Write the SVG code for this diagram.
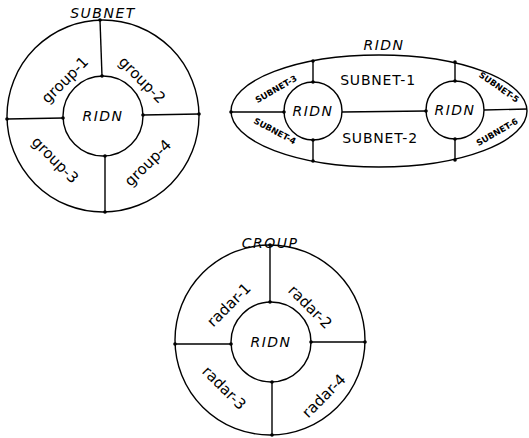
<svg xmlns="http://www.w3.org/2000/svg" width="529" height="438" viewBox="0 0 529 438">
<style>
.ln{fill:none;stroke:#000;stroke-width:1.4}
.dot{fill:#000}
.lab{font-family:"DejaVu Sans","Liberation Sans",sans-serif;font-size:15px;fill:#000;text-anchor:middle;dominant-baseline:central}
.it{font-family:"DejaVu Sans","Liberation Sans",sans-serif;font-style:italic;font-size:14px;fill:#000;text-anchor:middle;letter-spacing:1.5px}
.sm{font-family:"DejaVu Sans","Liberation Sans",sans-serif;font-weight:bold;font-size:8.5px;fill:#000;text-anchor:middle;dominant-baseline:central}
.mid{font-family:"DejaVu Sans","Liberation Sans",sans-serif;font-size:14px;fill:#000;text-anchor:middle;dominant-baseline:central;letter-spacing:0.8px}
</style>
<rect width="529" height="438" fill="#fff"/>

<!-- Subnet diagram -->
<g id="subnet">
<circle class="ln" cx="103" cy="116" r="96"/>
<circle class="ln" cx="103" cy="116" r="40"/>
<text class="it" x="103" y="18">SUBNET</text>
<text class="it" x="103" y="121" letter-spacing="1">RIDN</text>
<text class="lab" transform="translate(65,80) rotate(-45)">group-1</text>
<text class="lab" transform="translate(142,80) rotate(45)">group-2</text>
<text class="lab" transform="translate(55,160) rotate(45)">group-3</text>
<text class="lab" transform="translate(148,163) rotate(-45)">group-4</text>
</g>

<!-- RIDN network ellipse -->
<g id="ridn">
<ellipse class="ln" cx="379" cy="111" rx="148" ry="56"/>
<circle class="ln" cx="313" cy="111" r="29"/>
<circle class="ln" cx="455" cy="110" r="29"/>
<text class="it" x="384" y="50">RIDN</text>
<text class="it" x="313" y="116" letter-spacing="1">RIDN</text>
<text class="it" x="455" y="115" letter-spacing="1">RIDN</text>
<text class="mid" x="378" y="80">SUBNET-1</text>
<text class="mid" x="380" y="138">SUBNET-2</text>
<text class="sm" transform="translate(276,89) rotate(-30)">SUBNET-3</text>
<text class="sm" transform="translate(275,131) rotate(28)">SUBNET-4</text>
<text class="sm" transform="translate(499,87) rotate(35)">SUBNET-5</text>
<text class="sm" transform="translate(497,132) rotate(-30)">SUBNET-6</text>
</g>

<!-- Group diagram -->
<g id="group">
<circle class="ln" cx="270" cy="340" r="95"/>
<circle class="ln" cx="271" cy="342" r="40"/>
<text class="it" x="270" y="248">CROUP</text>
<text class="it" x="271" y="347" letter-spacing="1">RIDN</text>
<text class="lab" transform="translate(229,305) rotate(-45)">radar-1</text>
<text class="lab" transform="translate(310,307) rotate(45)">radar-2</text>
<text class="lab" transform="translate(224,388) rotate(45)">radar-3</text>
<text class="lab" transform="translate(324,396) rotate(-45)">radar-4</text>
</g>

<g id="connectors">
<line class="ln" x1="100" y1="20" x2="102" y2="76"/>
<line class="ln" x1="7" y1="119" x2="63" y2="118"/>
<line class="ln" x1="143" y1="115" x2="199" y2="114"/>
<line class="ln" x1="105" y1="156" x2="105" y2="212"/>
<circle class="dot" cx="100" cy="20" r="1.8"/>
<circle class="dot" cx="102" cy="76" r="1.8"/>
<circle class="dot" cx="7" cy="119" r="1.8"/>
<circle class="dot" cx="63" cy="118" r="1.8"/>
<circle class="dot" cx="143" cy="115" r="1.8"/>
<circle class="dot" cx="199" cy="114" r="1.8"/>
<circle class="dot" cx="105" cy="156" r="1.8"/>
<circle class="dot" cx="105" cy="212" r="1.8"/>

<line class="ln" x1="313" y1="61" x2="313" y2="82"/>
<line class="ln" x1="313" y1="140" x2="313" y2="161"/>
<line class="ln" x1="231" y1="112" x2="284" y2="112"/>
<line class="ln" x1="342" y1="112" x2="426" y2="111"/>
<line class="ln" x1="455" y1="62" x2="455" y2="81"/>
<line class="ln" x1="455" y1="139" x2="455" y2="160"/>
<line class="ln" x1="484" y1="110" x2="527" y2="109"/>
<circle class="dot" cx="313" cy="61" r="1.8"/>
<circle class="dot" cx="313" cy="82" r="1.8"/>
<circle class="dot" cx="313" cy="140" r="1.8"/>
<circle class="dot" cx="313" cy="161" r="1.8"/>
<circle class="dot" cx="231" cy="112" r="1.8"/>
<circle class="dot" cx="284" cy="112" r="1.8"/>
<circle class="dot" cx="426" cy="111" r="1.8"/>
<circle class="dot" cx="455" cy="62" r="1.8"/>
<circle class="dot" cx="455" cy="81" r="1.8"/>
<circle class="dot" cx="455" cy="139" r="1.8"/>
<circle class="dot" cx="455" cy="160" r="1.8"/>

<line class="ln" x1="270" y1="245" x2="270" y2="302"/>
<line class="ln" x1="175" y1="344" x2="231" y2="344"/>
<line class="ln" x1="311" y1="342" x2="365" y2="342"/>
<line class="ln" x1="272" y1="382" x2="272" y2="435"/>
<circle class="dot" cx="270" cy="245" r="1.8"/>
<circle class="dot" cx="270" cy="302" r="1.8"/>
<circle class="dot" cx="175" cy="344" r="1.8"/>
<circle class="dot" cx="231" cy="344" r="1.8"/>
<circle class="dot" cx="311" cy="342" r="1.8"/>
<circle class="dot" cx="365" cy="342" r="1.8"/>
<circle class="dot" cx="272" cy="382" r="1.8"/>
<circle class="dot" cx="272" cy="435" r="1.8"/>
</g>
</svg>
